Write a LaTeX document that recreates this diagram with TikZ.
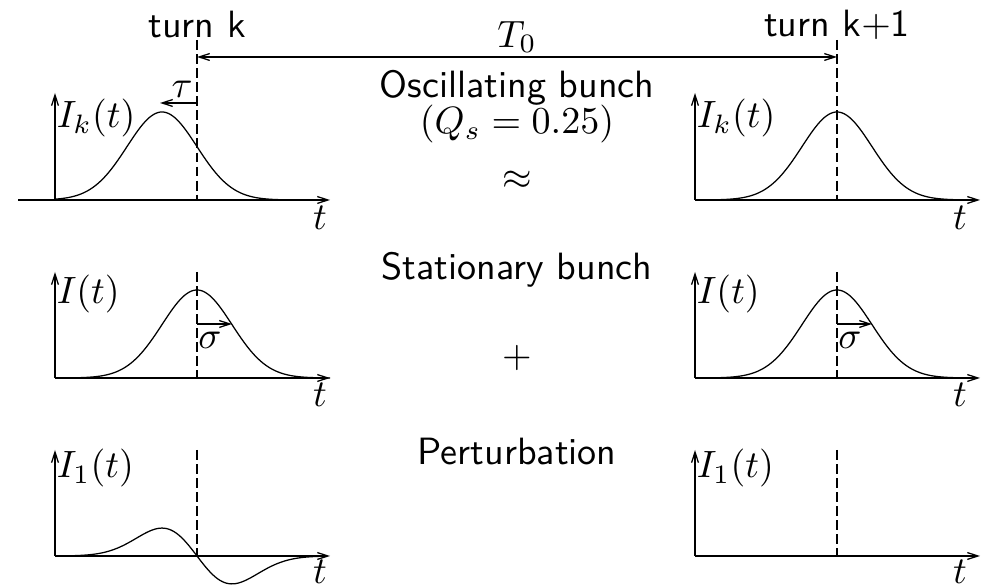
\documentclass[tikz,border=0pt]{standalone}
\usepackage{amsmath}
\usepackage{tikz}
\usetikzlibrary{arrows.meta, positioning, calc}

\begin{document}
\begin{tikzpicture}[x=0.263pt, y=-0.263pt,
    axis/.style={line width=0.33pt, -{Straight Barb[length=2.8pt, width=1.8pt]}},
    pulse/.style={line width=0.33pt},
    marker/.style={line width=0.33pt, dash pattern=on 2.6pt off 1.1pt},
    span/.style={line width=0.33pt, {Straight Barb[length=2.8pt, width=1.8pt]}-{Straight Barb[length=2.8pt, width=1.8pt]}},
    offsetarrow/.style={line width=0.33pt, -{Straight Barb[length=2.8pt, width=1.8pt]}},
    txt/.style={font=\sffamily, inner sep=0pt, align=center},
    mth/.style={inner sep=0pt},
  ]
    \useasboundingbox (0,0) rectangle (987,587);

    % Turn markers
    \node[txt] (turnk) at (197,25) {turn k};
    \node[txt] (turnk1) at (837,25) {turn k$+$1};
    \coordinate (mk) at (197,57);
    \coordinate (mk1) at (837,57);
    \draw[span] (mk) -- (mk1);
    \node[mth] (period) at (517,37) {$T_0$};

    % Centre column
    \node[txt] (osc) at (517,88) {Oscillating bunch};
    \node[mth] (qs) at (517,124) {$(Q_s = 0.25)$};
    \node[mth] (approx) at (517,180) {$\approx$};
    \node[txt] (stat) at (517,270) {Stationary bunch};
    \node[mth] (plus) at (517,358) {$+$};
    \node[txt] (pert) at (517,452) {Perturbation};

    % Oscillating bunch, turn k
    \coordinate (o1) at (55,200);
    \coordinate (o1s) at (18,200);
    \coordinate (o1x) at (330,200);
    \coordinate (o1y) at (55,93);
    \draw[axis] (o1s) -- (o1x);
    \draw[axis] (o1) -- (o1y);
    \draw[pulse] plot[domain=55:315, samples=120] (\x, {200-88*exp(-((\x-162)/35)^2/2)});
    \coordinate (d1a) at (197,40);
    \coordinate (d1b) at (197,200);
    \draw[marker] (d1a) -- (d1b);
    \coordinate (tau0) at (197,103);
    \coordinate (tau1) at (160,103);
    \draw[offsetarrow] (tau0) -- (tau1);
    \node[mth] (taulbl) at (182,89) {$\tau$};
    \node[mth, anchor=west] (ik1) at (56,118) {$I_k(t)$};
    \node[mth] (t1) at (320,218) {$t$};

    % Oscillating bunch, turn k+1
    \coordinate (o2) at (695,200);
    \coordinate (o2x) at (980,200);
    \coordinate (o2y) at (695,93);
    \draw[axis] (o2) -- (o2x);
    \draw[axis] (o2) -- (o2y);
    \draw[pulse] plot[domain=695:960, samples=120] (\x, {200-88*exp(-((\x-837)/35)^2/2)});
    \coordinate (d2a) at (837,40);
    \coordinate (d2b) at (837,200);
    \draw[marker] (d2a) -- (d2b);
    \node[mth, anchor=west] (ik2) at (696,118) {$I_k(t)$};
    \node[mth] (t2) at (960,218) {$t$};

    % Stationary bunch, turn k
    \coordinate (o3) at (55,378);
    \coordinate (o3x) at (330,378);
    \coordinate (o3y) at (55,272);
    \draw[axis] (o3) -- (o3x);
    \draw[axis] (o3) -- (o3y);
    \draw[pulse] plot[domain=55:330, samples=120] (\x, {378-88*exp(-((\x-197)/35)^2/2)});
    \coordinate (d3a) at (197,272);
    \coordinate (d3b) at (197,378);
    \draw[marker] (d3a) -- (d3b);
    \coordinate (sg0) at (197,324);
    \coordinate (sg1) at (232,324);
    \draw[offsetarrow] (sg0) -- (sg1);
    \node[mth] (sglbl) at (210,340) {$\sigma$};
    \node[mth, anchor=west] (i3) at (56,294) {$I(t)$};
    \node[mth] (t3) at (320,395) {$t$};

    % Stationary bunch, turn k+1
    \coordinate (o4) at (695,378);
    \coordinate (o4x) at (980,378);
    \coordinate (o4y) at (695,272);
    \draw[axis] (o4) -- (o4x);
    \draw[axis] (o4) -- (o4y);
    \draw[pulse] plot[domain=695:970, samples=120] (\x, {378-88*exp(-((\x-837)/35)^2/2)});
    \coordinate (d4a) at (837,272);
    \coordinate (d4b) at (837,378);
    \draw[marker] (d4a) -- (d4b);
    \coordinate (sg2) at (837,324);
    \coordinate (sg3) at (872,324);
    \draw[offsetarrow] (sg2) -- (sg3);
    \node[mth] (sglbl2) at (850,340) {$\sigma$};
    \node[mth, anchor=west] (i4) at (696,294) {$I(t)$};
    \node[mth] (t4) at (960,395) {$t$};

    % Perturbation, turn k
    \coordinate (o5) at (55,556);
    \coordinate (o5x) at (330,556);
    \coordinate (o5y) at (55,450);
    \draw[axis] (o5) -- (o5x);
    \draw[axis] (o5) -- (o5y);
    \draw[pulse] plot[domain=55:320, samples=120] (\x, {556+46*((\x-197)/35)*exp(-((\x-197)/35)^2/2)});
    \coordinate (d5a) at (197,450);
    \coordinate (d5b) at (197,556);
    \draw[marker] (d5a) -- (d5b);
    \node[mth, anchor=west] (i5) at (56,468) {$I_1(t)$};
    \node[mth] (t5) at (320,572) {$t$};

    % Perturbation, turn k+1
    \coordinate (o6) at (695,556);
    \coordinate (o6x) at (980,556);
    \coordinate (o6y) at (695,450);
    \draw[axis] (o6) -- (o6x);
    \draw[axis] (o6) -- (o6y);
    \coordinate (d6a) at (837,450);
    \coordinate (d6b) at (837,556);
    \draw[marker] (d6a) -- (d6b);
    \node[mth, anchor=west] (i6) at (696,468) {$I_1(t)$};
    \node[mth] (t6) at (960,572) {$t$};

  \end{tikzpicture}
\end{document}
